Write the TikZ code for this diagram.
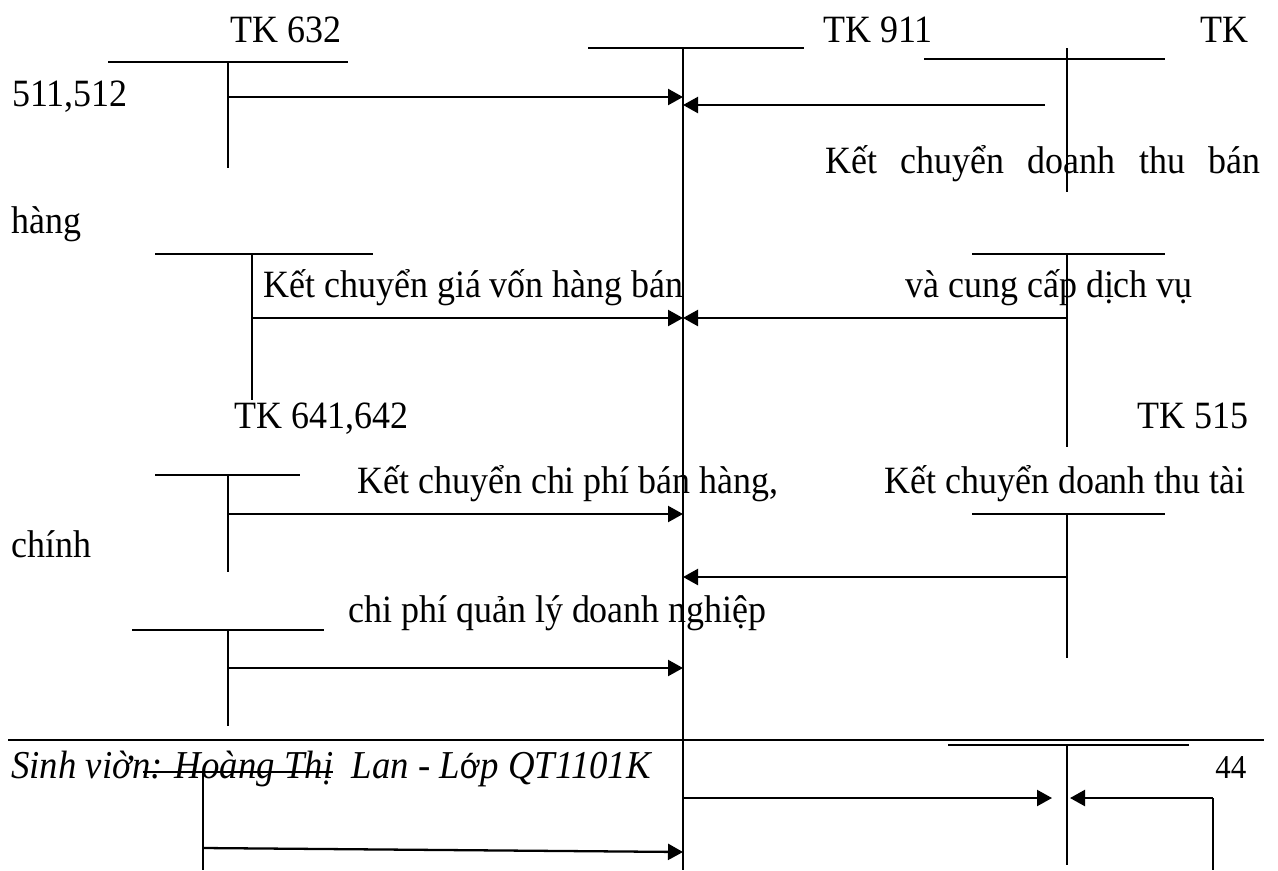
\documentclass[tikz,border=0pt]{standalone}
\usepackage{fontspec}
\setmainfont[FakeStretch=0.93]{Liberation Serif}
\newfontfamily\lsans[FakeStretch=0.93]{Liberation Sans}
\usetikzlibrary{arrows.meta}
\tikzset{
  lbl/.style={inner sep=0pt, anchor=base west, font=\fontsize{22pt}{26pt}\selectfont},
  tline/.style={line width=0.85pt},
  flow/.style={line width=1.3pt, -{Triangle[length=0.3cm,width=0.32cm]}},
  rule/.style={line width=1.2pt}
}
\begin{document}
\begin{tikzpicture}[x=0.02cm,y=-0.02cm]
\useasboundingbox (0,0) rectangle (1278,870);
% ---------- texts ----------
\node[lbl] (t632) at (230,42) {TK 632};
\node[lbl] (t911) at (823,42) {TK 911};
\node[lbl] (tTK) at (1200,42) {TK};
\node[lbl] (t511) at (12,106) {511,512};
\node[lbl] (tdt1) at (825,173) {\hbox to 8.7cm{Kết\hfill chuyển\hfill doanh\hfill thu\hfill bán}};
\node[lbl] (thang) at (11,233) {hàng};
\node[lbl] (tgv) at (263,297) {Kết chuyển giá vốn hàng bán};
\node[lbl] (tvcc) at (905,297) {và cung cấp dịch vụ};
\node[lbl] (t641) at (234,428) {TK 641,642};
\node[lbl] (t515) at (1137,428) {TK 515};
\node[lbl] (tcp) at (357,493) {Kết chuyển chi phí bán hàng,};
\node[lbl] (tdt2) at (884,493) {Kết chuyển doanh thu tài};
\node[lbl] (tchinh) at (11,557) {chính};
\node[lbl] (tql) at (348,622) {chi phí quản lý doanh nghiệp};
\node[lbl, font=\fontsize{22.5pt}{26pt}\selectfont] (tfoot) at (11,778) {\itshape Sinh viờn: Hoàng Thị\ \ Lan - L{\lsans\upshape\fontsize{19.5pt}{21pt}\selectfont ớ}p QT1101K};
\node[lbl, font=\fontsize{19pt}{21pt}\selectfont] (t44) at (1215,778) {44};
% ---------- coordinates ----------
% left T1 (TK 632)
\coordinate (a1l) at (108,62); \coordinate (a1r) at (348,62);
\coordinate (a1t) at (228,62); \coordinate (a1b) at (228,168);
\coordinate (a1s) at (228,97);
% main T (TK 911)
\coordinate (ml) at (588,48); \coordinate (mr) at (804,48);
\coordinate (mt) at (683,48); \coordinate (mb) at (683,870);
\coordinate (m1) at (683,97); \coordinate (m1b) at (683,105);
\coordinate (m2) at (683,318); \coordinate (m3) at (683,514);
\coordinate (m4) at (683,577); \coordinate (m5) at (683,668);
\coordinate (m6) at (683,852); \coordinate (m7) at (683,798);
% right T1 (TK 511,512)
\coordinate (b1l) at (924,59); \coordinate (b1r) at (1165,59);
\coordinate (b1t) at (1067,48); \coordinate (b1b) at (1067,192);
\coordinate (b1s) at (1045,105);
% left T2
\coordinate (a2l) at (155,254); \coordinate (a2r) at (373,254);
\coordinate (a2t) at (252,254); \coordinate (a2b) at (252,400);
\coordinate (a2s) at (252,318);
% right T2
\coordinate (b2l) at (972,254); \coordinate (b2r) at (1165,254);
\coordinate (b2t) at (1067,254); \coordinate (b2b) at (1067,447);
\coordinate (b2s) at (1067,318);
% left T3
\coordinate (a3l) at (155,475); \coordinate (a3r) at (300,475);
\coordinate (a3t) at (228,475); \coordinate (a3b) at (228,572);
\coordinate (a3s) at (228,514);
% right T3 (TK 515)
\coordinate (b3l) at (972,514); \coordinate (b3r) at (1165,514);
\coordinate (b3t) at (1067,514); \coordinate (b3b) at (1067,658);
\coordinate (b3s) at (1067,577);
% left T4
\coordinate (a4l) at (132,630); \coordinate (a4r) at (324,630);
\coordinate (a4t) at (228,630); \coordinate (a4b) at (228,726);
\coordinate (a4s) at (228,668);
% footer rule
\coordinate (fl) at (8,740); \coordinate (fr) at (1264,740);
% bottom-left T
\coordinate (a5l) at (143,772); \coordinate (a5r) at (333,772);
\coordinate (a5t) at (203,772); \coordinate (a5b) at (203,870);
\coordinate (a5s) at (203,848);
% bottom-right T
\coordinate (b5l) at (948,745); \coordinate (b5r) at (1189,745);
\coordinate (b5t) at (1067,745); \coordinate (b5b) at (1067,865);
\coordinate (b5in) at (1052,798); \coordinate (b5in2) at (1070,798);
\coordinate (c5t) at (1213,798); \coordinate (c5b) at (1213,870);
% ---------- T-accounts ----------
\draw[tline] (a1l) -- (a1r); \draw[tline] (a1t) -- (a1b);
\draw[tline] (ml) -- (mr); \draw[tline] (mt) -- (mb);
\draw[tline] (b1l) -- (b1r); \draw[tline] (b1t) -- (b1b);
\draw[tline] (a2l) -- (a2r); \draw[tline] (a2t) -- (a2b);
\draw[tline] (b2l) -- (b2r); \draw[tline] (b2t) -- (b2b);
\draw[tline] (a3l) -- (a3r); \draw[tline] (a3t) -- (a3b);
\draw[tline] (b3l) -- (b3r); \draw[tline] (b3t) -- (b3b);
\draw[tline] (a4l) -- (a4r); \draw[tline] (a4t) -- (a4b);
\draw[rule] (fl) -- (fr);
\draw[tline] (a5l) -- (a5r); \draw[tline] (a5t) -- (a5b);
\draw[tline] (b5l) -- (b5r); \draw[tline] (b5t) -- (b5b);
\draw[tline] (c5t) -- (c5b);
% ---------- flows ----------
\draw[flow] (a1s) -- (m1);
\draw[flow] (b1s) -- (m1b);
\draw[flow] (a2s) -- (m2);
\draw[flow] (b2s) -- (m2);
\draw[flow] (a3s) -- (m3);
\draw[flow] (b3s) -- (m4);
\draw[flow] (a4s) -- (m5);
\draw[flow] (a5s) -- (m6);
\draw[flow] (m7) -- (b5in);
\draw[flow] (c5t) -- (b5in2);
\end{tikzpicture}
\end{document}
